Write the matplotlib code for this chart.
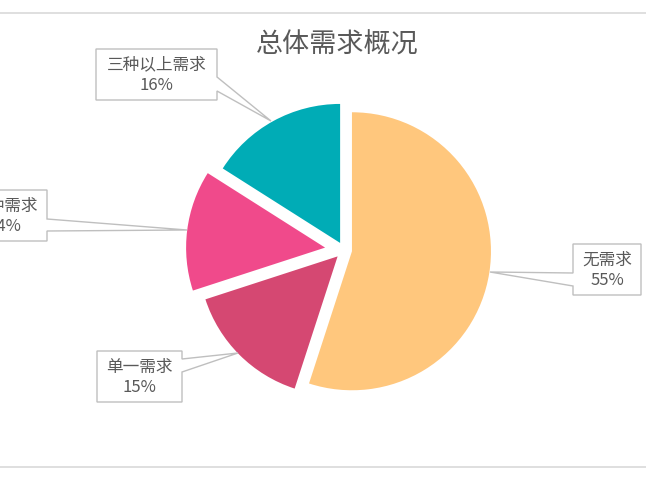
import matplotlib
matplotlib.use("Agg")
import matplotlib.pyplot as plt
from matplotlib.patches import Polygon

plt.rcParams['font.family'] = ['Noto Sans CJK SC', 'DejaVu Sans']

# 数据
categories = ['无需求', '单一需求', '两种需求', '三种以上需求']
shares = [55, 15, 14, 16]
pct_labels = ['55%', '15%', '14%', '16%']
colors = ['#FFC77D', '#D54872', '#F04A8B', '#00ACB6']
explode = [0.058, 0.065, 0.137, 0.058]

W, H = 646, 485
fig = plt.figure(figsize=(W / 100, H / 100), dpi=100)
ax = fig.add_axes([0, 0, 1, 1])


def Y(y):
    # pixel row (from top) -> data y
    return H - y


cx, cy, r = 344, 251, 139
# explode of pie() is in data units, so scale by radius
ax.pie(shares, colors=colors, explode=[e * r for e in explode], startangle=90,
       counterclock=False, radius=r, center=(cx, Y(cy)), frame=True,
       wedgeprops=dict(linewidth=0))

# 标注框 (left, right, top, bottom, 指针两端, 指针尖)
callouts = [
    (573, 641, 245, 296, [(573, 287), (490, 273), (573, 274)], 'left'),
    (97, 182, 352, 403, [(182, 360), (238, 354), (182, 373)], 'right'),
    (-38, 47, 191, 242, [(47, 220), (187, 231), (47, 232)], 'right'),
    (96, 217, 50, 101, [(217, 78), (271, 122), (217, 92)], 'right'),
]

for (x0, x1, y0, y1, ptr, side), name, pct in zip(callouts, categories, pct_labels):
    if side == 'left':
        pts = [(x0, y0), (x1, y0), (x1, y1), (x0, y1), ptr[0], ptr[1], ptr[2]]
    else:
        pts = [(x0, y0), (x1, y0), ptr[0], ptr[1], ptr[2], (x1, y1), (x0, y1)]
    poly = Polygon([(px, Y(py)) for px, py in pts], closed=True,
                   facecolor='white', edgecolor='#BFBFBF', linewidth=1, zorder=3)
    ax.add_patch(poly)
    xm = (x0 + x1) / 2
    ym = (y0 + y1) / 2
    ax.text(xm, Y(ym), name + '\n' + pct, ha='center', va='center', fontsize=12,
            color='#595959', linespacing=1.3, zorder=4)

ax.text(337, Y(45), '总体需求概况', ha='center', va='center', fontsize=19.5, color='#595959')

# 图表区边框
ax.plot([0, W], [Y(14), Y(14)], color='#D9D9D9', lw=1.2)
ax.plot([0, W], [Y(468), Y(468)], color='#D9D9D9', lw=1.2)

ax.set_xlim(0, W)
ax.set_ylim(0, H)
ax.set_aspect('equal')
ax.axis('off')

fig.savefig('out.png', dpi=100, facecolor='white')
